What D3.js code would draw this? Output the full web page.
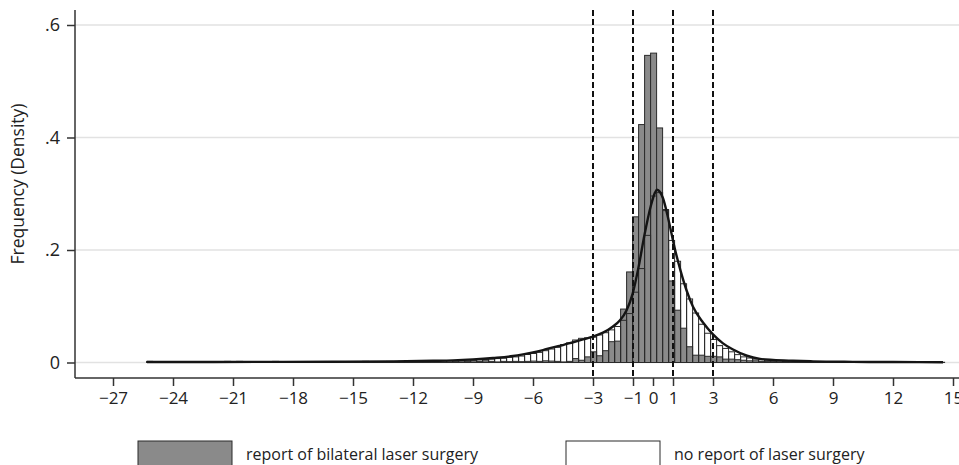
<!DOCTYPE html>
<html>
<head>
<meta charset="utf-8">
<script src="https://cdn.jsdelivr.net/npm/d3@7"></script>
<style>
  html, body { margin: 0; padding: 0; background: #fff; }
  svg { display: block; }
  text { font-family: "Open Sans", "Noto Sans", sans-serif; fill: #222; }
</style>
</head>
<body>
<svg id="chart" width="959" height="465"></svg>
<script>
// ---- data (densities per 0.3-wide bin, starting at -25.32) ----
const binStart = -25.32;
const binWidth = 0.3;

const laserSurgery = [
  .002,.0005,0,.0005,0,0,.0005,0,0,.0005,
  0,0,.0005,.002,.0005,.002,0,.0005,0,0,
  .0005,.002,0,.0005,0,0,.0005,0,.0005,0,
  0,.0005,0,.0005,0,.0005,.002,.0005,0,.0005,
  .0005,0,.0005,.0005,.001,.0005,.001,.0005,.001,.001,
  .001,.0015,.003,.002,.003,.002,.003,.002,.001,.002,
  .0015,.002,.0015,.002,.0025,.002,.003,.0025,.002,.001,
  .002,.007,.004,.010,.019,.012,.021,.037,.038,.095,
  .161,.259,.423,.546,.550,.417,.272,.145,.093,.061,
  .028,.013,.013,.011,.011,.010,.006,.006,.005,.004,
  .003,.003,.002,.002,.0015,.001,.0015,.001,.0005,.001,
  .0005,0,.0005,0,.0005,0,0,.0005,0,0,
  .0005,0,0,.0005,0,0,0,.0005,0,0,
  0,.0005,0
];

const noReport = [
  .001,.0006,.0004,.0005,.0007,.0005,.0006,.0008,.0006,.0007,
  .0007,.0008,.0006,.0009,.0008,.001,.0009,.0008,.001,.0009,
  .001,.0011,.0009,.001,.0012,.0011,.001,.0012,.0013,.0012,
  .0013,.0014,.0012,.0015,.0014,.0016,.0015,.0017,.0016,.0018,
  .0019,.0018,.002,.0021,.0022,.0024,.0023,.0026,.0027,.0029,
  .003,.0033,.0031,.004,.0042,.0048,.0052,.006,.007,.0076,
  .0092,.010,.0115,.0142,.016,.018,.021,.024,.027,.032,
  .035,.040,.043,.044,.045,.049,.053,.058,.064,.075,
  .087,.125,.167,.226,.296,.302,.270,.217,.180,.140,
  .113,.088,.068,.052,.041,.030,.025,.019,.014,.010,
  .008,.006,.005,.004,.0035,.003,.0025,.0022,.002,.0018,
  .0015,.0014,.0013,.0012,.0011,.001,.001,.0009,.0009,.0008,
  .0008,.0007,.0007,.0007,.0006,.0006,.0006,.0005,.0005,.0005,
  .0005,.0004,.0004
];

// density curve (no report group)
const curveX = [-25.3,-22,-19,-16,-13,-11,-10,-9,-8,-7,-6.5,-6,-5.5,-5,-4.5,-4,-3.5,-3,-2.5,-2,
  -1.65,-1.32,-1.02,-0.72,-0.42,-0.12,0.1,0.2,0.35,0.5,0.78,1.08,1.38,1.68,2.0,2.5,3.0,3.5,4.0,4.7,
  5.35,6,7,8,10,12,14.5];
const curveY = [.0008,.0009,.0011,.0014,.002,.003,.0038,.0055,.008,.0115,.0145,.018,.022,.027,.031,.036,.041,.046,.053,.064,
  .075,.093,.122,.170,.228,.277,.302,.307,.303,.292,.253,.204,.163,.128,.099,.071,.050,.034,.023,.012,
  .0065,.0045,.003,.002,.0012,.0008,.0005];

const xTicks = [-27,-24,-21,-18,-15,-12,-9,-6,-3,-1,0,1,3,6,9,12,15];
const yTicks = [0, 0.2, 0.4, 0.6];
const yTickLabels = ["0", ".2", ".4", ".6"];
const refLines = [-3, -1, 1, 3];
const yTitle = "Frequency (Density)";
const legendLabels = ["report of bilateral laser surgery", "no report of laser surgery"];

// ---- layout ----
const svg = d3.select("#chart");
const x = d3.scaleLinear().domain([-27, 15]).range([113, 953]);
const y = d3.scaleLinear().domain([0, 0.6]).range([362.5, 25]);
const axisX0 = 75, axisY0 = 378, plotTop = 10, plotRight = 959;

// grid
svg.append("g").selectAll("line").data(yTicks).join("line")
  .attr("x1", axisX0).attr("x2", plotRight)
  .attr("y1", d => y(d)).attr("y2", d => y(d))
  .attr("stroke", "#e2e2e2").attr("stroke-width", 1.6);

const bw = x(binWidth) - x(0);
// laser bars
svg.append("g").selectAll("rect").data(laserSurgery).join("rect")
  .attr("x", (d, i) => x(binStart + i * binWidth))
  .attr("width", bw)
  .attr("y", d => y(d))
  .attr("height", d => y(0) - y(d))
  .attr("fill", "#8a8a8a")
  .attr("stroke", "#2b2b2b").attr("stroke-width", 1);

// no report bars (outline only)
svg.append("g").selectAll("rect").data(noReport).join("rect")
  .attr("x", (d, i) => x(binStart + i * binWidth))
  .attr("width", bw)
  .attr("y", d => y(d))
  .attr("height", d => y(0) - y(d))
  .attr("fill", "none")
  .attr("stroke", "#2b2b2b").attr("stroke-width", 1);

// density curve
const pts = curveX.map((v, i) => [v, curveY[i]]);
svg.append("path").datum(pts)
  .attr("d", d3.line().x(d => x(d[0])).y(d => y(d[1])).curve(d3.curveMonotoneX))
  .attr("fill", "none").attr("stroke", "#151515").attr("stroke-width", 2.4);

// reference lines
svg.append("g").selectAll("line").data(refLines).join("line")
  .attr("x1", d => x(d)).attr("x2", d => x(d))
  .attr("y1", plotTop).attr("y2", axisY0)
  .attr("stroke", "#111").attr("stroke-width", 2)
  .attr("stroke-dasharray", "6,3");

// axes
const fmt = d => d < 0 ? "\u2212" + Math.abs(d) : String(d);
const gx = svg.append("g").attr("transform", `translate(0,${axisY0})`)
  .call(d3.axisBottom(x).tickValues(xTicks).tickFormat(fmt).tickSize(8).tickPadding(6));
gx.select(".domain").remove();
gx.selectAll("line").attr("stroke", "#333").attr("stroke-width", 1.5);
gx.selectAll("text").style("font-size", "17px").attr("fill", "#222")
  .style("font-family", '"Open Sans", "Noto Sans", sans-serif');
svg.append("line").attr("x1", axisX0).attr("x2", plotRight)
  .attr("y1", axisY0).attr("y2", axisY0).attr("stroke", "#333").attr("stroke-width", 1.5);

const gy = svg.append("g").attr("transform", `translate(${axisX0},0)`)
  .call(d3.axisLeft(y).tickValues(yTicks).tickFormat((d, i) => yTickLabels[i]).tickSize(8).tickPadding(7));
gy.select(".domain").remove();
gy.selectAll("line").attr("stroke", "#333").attr("stroke-width", 1.5);
gy.selectAll("text").style("font-size", "18px").attr("fill", "#222")
  .style("font-family", '"Open Sans", "Noto Sans", sans-serif');
svg.append("line").attr("x1", axisX0).attr("x2", axisX0)
  .attr("y1", plotTop).attr("y2", axisY0).attr("stroke", "#333").attr("stroke-width", 1.5);

// y title
svg.append("text")
  .attr("transform", `translate(24,184) rotate(-90)`)
  .attr("text-anchor", "middle")
  .style("font-size", "17.5px")
  .text(yTitle);

// legend
const legend = svg.append("g");
const legX = [138, 566];
legend.selectAll("rect").data(legendLabels).join("rect")
  .attr("x", (d, i) => legX[i]).attr("y", 441)
  .attr("width", 94).attr("height", 30)
  .attr("fill", (d, i) => i === 0 ? "#8a8a8a" : "#fff")
  .attr("stroke", "#2b2b2b").attr("stroke-width", 1);
legend.selectAll("text").data(legendLabels).join("text")
  .attr("x", (d, i) => legX[i] + 108).attr("y", 460)
  .style("font-size", "16px")
  .text(d => d);
</script>
</body>
</html>
